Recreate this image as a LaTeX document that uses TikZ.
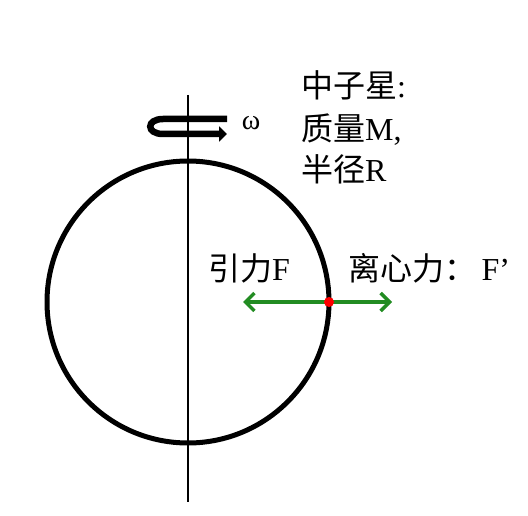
\documentclass[tikz,border=0pt]{standalone}
\usepackage{fontspec}
\setmainfont{Liberation Serif}
\newfontfamily\cjk{Noto Sans CJK SC}
\usetikzlibrary{arrows.meta}
\definecolor{fgreen}{RGB}{34,140,34}
\tikzset{
  lbl/.style={inner sep=0pt, anchor=base west, font=\fontsize{32}{36}\selectfont},
  axisline/.style={line width=1.8pt, black},
  force/.style={line width=3.5pt, fgreen, {Straight Barb[length=9pt,width=18pt,line width=3.5pt]}-{Straight Barb[length=9pt,width=18pt,line width=3.5pt]}},
}
\begin{document}
\begin{tikzpicture}[x=1pt,y=-1pt]
\useasboundingbox (0,0) rectangle (528,516);
% star circle
\node[circle, draw, line width=5pt, minimum size=282pt, inner sep=0pt] (ns) at (188,302) {};
% rotation arrow
\coordinate (r0) at (227,119);
\coordinate (r1) at (227,134);
\draw[line width=6.5pt, -{Triangle[length=8pt,width=15pt]}] (r0) -- (163,119) .. controls (146,119) and (146,134) .. (163,134) -- (r1);
% axis
\coordinate (atop) at (188,95);
\coordinate (abot) at (188,502);
\draw[axisline] (atop) -- (abot);
\node[inner sep=0pt, font=\fontsize{28}{32}\selectfont] (omega) at (251,123) {ω};
% labels
\node[lbl] (l1) at (301,98) {{\cjk 中子星}:};
\node[lbl] (l2) at (301,141) {{\cjk 质量}M,};
\node[lbl] (l3) at (301,182) {{\cjk 半径}R};
\node[lbl] (grav) at (208,280) {{\cjk 引力}F};
\node[lbl] (cent) at (348,280) {{\cjk 离心力：}\,F’};
% forces
\coordinate (p) at (329,302);
\coordinate (fl) at (243,302);
\coordinate (fr) at (392,302);
\draw[force] (fl) -- (fr);
\fill[red] (p) circle (5pt);
\end{tikzpicture}
\end{document}
